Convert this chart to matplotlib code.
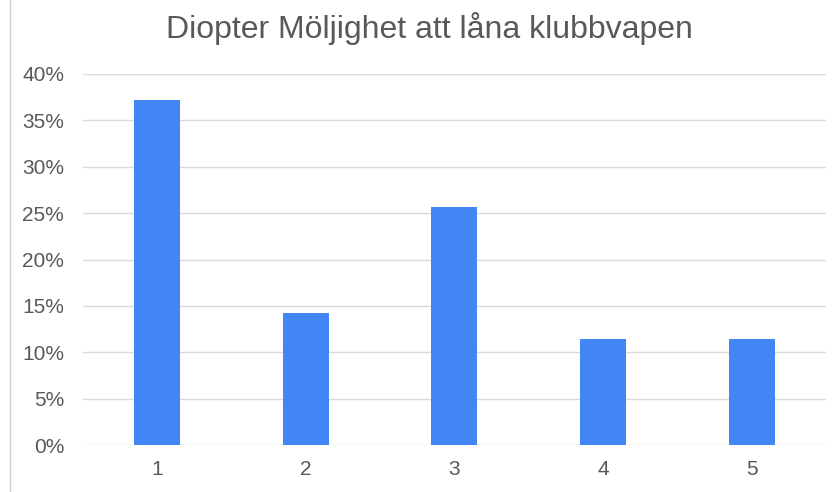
import matplotlib.pyplot as plt
from matplotlib.lines import Line2D
from matplotlib.ticker import FuncFormatter

plt.rcParams['font.family'] = ['Liberation Sans', 'DejaVu Sans']

# answers 1..5, share of respondents (35 answers)
categories = [1, 2, 3, 4, 5]
shares = [13/35, 5/35, 9/35, 4/35, 4/35]
yticks = [0, 0.05, 0.10, 0.15, 0.20, 0.25, 0.30, 0.35, 0.40]

textgray = '#595959'

fig = plt.figure(figsize=(8.35, 4.92), dpi=100)
ax = fig.add_axes([0.0994, 0.0955, 0.8896, 0.7541])

ax.bar(categories, shares, width=0.31, color='#4285f4', zorder=3)

ax.set_xlim(0.5, 5.5)
ax.set_ylim(0, 0.40)
ax.set_xticks(categories)
ax.set_yticks(yticks)
ax.yaxis.set_major_formatter(FuncFormatter(lambda v, p: '%d%%' % round(v * 100)))
ax.grid(axis='y', color='#dadada', linewidth=1.0, zorder=0)
ax.tick_params(axis='both', length=0, labelsize=15, labelcolor=textgray)
ax.tick_params(axis='y', pad=13.5)
ax.tick_params(axis='x', pad=10.5)
for s in ax.spines.values():
    s.set_visible(False)

fig.text(0.514, 1 - 38/492, 'Diopter Möljighet att låna klubbvapen', ha='center', va='baseline',
         fontsize=23, color=textgray)

# thin frame line on the left edge
fig.add_artist(Line2D([9.5/835, 9.5/835], [0, 1], transform=fig.transFigure,
                      color='#cfcfcf', linewidth=1.0))

plt.savefig('out.png', dpi=100)
